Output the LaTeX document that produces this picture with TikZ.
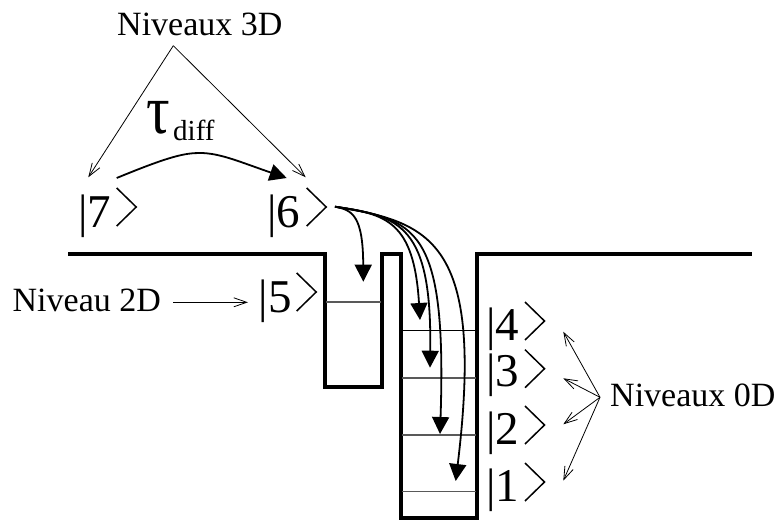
\documentclass[tikz,border=0pt]{standalone}
\usepackage{fontspec}
\setmainfont{Liberation Serif}
\usetikzlibrary{arrows.meta}
\newcommand{\ketclose}[2]{\draw[ketline] (#1,#2-19) -- (#1+19.5,#2) -- (#1,#2+19);}
\tikzset{
  ketlabel/.style={inner sep=0pt,anchor=base west,font=\fontsize{47}{47}\selectfont},
  caption/.style={inner sep=0pt,anchor=base west,font=\fontsize{34}{34}\selectfont},
  ketline/.style={line width=1.5pt},
  well/.style={line width=3.6pt,line join=miter},
  levelline/.style={line width=1.1pt,black!65},
  thinarrow/.style={line width=0.8pt,-{Straight Barb[length=13pt,width=9pt,line width=0.8pt]}},
  decay/.style={line width=1.8pt,-{Triangle[length=17pt,width=17pt]}},
}
\begin{document}
\begin{tikzpicture}[x=1pt,y=-1pt]
\useasboundingbox (0,0) rectangle (778,521);
% wells
\draw[well] (68,254) -- (325,254) -- (325,387) -- (382,387) -- (382,254) -- (401,254) -- (401,518) -- (477,518) -- (477,254) -- (752,254);
\draw[levelline] (326,302) -- (381,302);
\draw[levelline,black] (402,330.7) -- (476,330.7);
\draw[levelline] (402,378) -- (476,378);
\draw[levelline] (402,435) -- (476,435);
\draw[levelline] (402,491.7) -- (476,491.7);
% kets
\node[ketlabel] (k7) at (78,227) {|7};
\node[ketlabel] (k6) at (267,227) {|6};
\node[ketlabel] (k5) at (258.5,312) {|5};
\node[ketlabel] (k4) at (486,340) {|4};
\node[ketlabel] (k3) at (486,386.7) {|3};
\node[ketlabel] (k2) at (486,444) {|2};
\node[ketlabel] (k1) at (486,501) {|1};
\ketclose{116.7}{207}
\ketclose{306.7}{207}
\ketclose{296.7}{292}
\ketclose{525}{321}
\ketclose{525}{368.7}
\ketclose{525}{425}
\ketclose{525}{482}
% captions
\node[caption] (n3d) at (117,36) {Niveaux 3D};
\node[caption] (n2d) at (12.5,311.7) {Niveau 2D};
\node[caption] (n0d) at (610,406) {Niveaux 0D};
\node[inner sep=0pt,anchor=base west,font=\fontsize{70}{70}\selectfont] (tau) at (146,134) {\scalebox{0.84}[1]{τ}};
\node[inner sep=0pt,anchor=base west,font=\fontsize{29}{29}\selectfont] (diff) at (173,140.7) {diff};
% anchors
\coordinate (a3) at (173.3,45.7);
\coordinate (e7) at (88.3,177.3);
\coordinate (e6) at (305.7,177.3);
\coordinate (a2) at (173,302.3);
\coordinate (e5) at (248,302.3);
\coordinate (a0) at (600,397.3);
\coordinate (e4) at (563.3,331.7);
\coordinate (e3) at (563.3,378.3);
\coordinate (e2) at (563.3,424.3);
\coordinate (e1) at (563.3,480.7);
\coordinate (s7) at (116.7,178);
\coordinate (t6) at (286.7,178);
\coordinate (s6) at (335,206.7);
\coordinate (d5) at (363.3,281.7);
\coordinate (d4) at (420,320);
\coordinate (d3) at (430,367.7);
\coordinate (d2) at (440,434);
\coordinate (d1) at (455.7,481);
% thin arrows
\draw[thinarrow] (a3) -- (e7);
\draw[thinarrow] (a3) -- (e6);
\draw[thinarrow] (a2) -- (e5);
\draw[thinarrow] (a0) -- (e4);
\draw[thinarrow] (a0) -- (e3);
\draw[thinarrow] (a0) -- (e2);
\draw[thinarrow] (a0) -- (e1);
% decays
\draw[decay] (s7) .. controls (170,156) and (185,153) .. (200,153) .. controls (220,153) and (240,162) .. (t6);
\draw[decay] (s6) .. controls (352,210) and (363,215) .. (363.3,281.7);
\draw[decay] (s6) .. controls (385,214) and (414,220) .. (420,320);
\draw[decay] (s6) .. controls (400,216) and (432,225) .. (430,367.7);
\draw[decay] (s6) .. controls (415,220) and (447,225) .. (440,434);
\draw[decay] (s6) .. controls (430,222) and (485,240) .. (455.7,481);
\end{tikzpicture}
\end{document}
